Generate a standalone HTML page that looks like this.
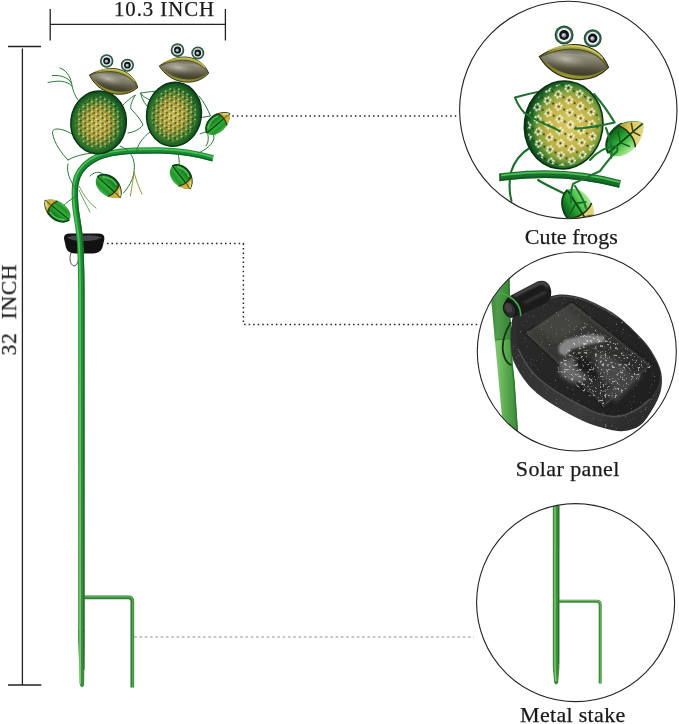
<!DOCTYPE html>
<html>
<head>
<meta charset="utf-8">
<title>Solar frog garden stake – dimensions</title>
<style>
  html,body{margin:0;padding:0;background:#fff;}
  body{width:679px;height:724px;overflow:hidden;position:relative;font-family:"Liberation Serif",serif;color:#1a1a1a;}
  svg{position:absolute;left:0;top:0;display:block;}
  .lbl{font-family:"Liberation Serif",serif;fill:#1a1a1a;stroke:#1a1a1a;stroke-width:0.25px;}
</style>
</head>
<body>
<svg width="679" height="724" viewBox="0 0 679 724">
<defs>
  <clipPath id="c1"><circle cx="568.3" cy="110" r="108.2"/></clipPath>
  <clipPath id="c2"><circle cx="576.8" cy="351.5" r="99"/></clipPath>
  <clipPath id="c3"><circle cx="575.6" cy="602.6" r="98.5"/></clipPath>

  <!-- gradients -->
  <radialGradient id="gBody" cx="0.48" cy="0.52" r="0.55">
    <stop offset="0" stop-color="#cfc058"/>
    <stop offset="0.4" stop-color="#ab9f38"/>
    <stop offset="0.62" stop-color="#5c8a2e"/>
    <stop offset="0.8" stop-color="#1f6b28"/>
    <stop offset="1" stop-color="#0c3a15"/>
  </radialGradient>
  <linearGradient id="gHead" x1="0.35" y1="0" x2="0.6" y2="1">
    <stop offset="0" stop-color="#5f5d44"/>
    <stop offset="0.25" stop-color="#939180"/>
    <stop offset="0.5" stop-color="#777561"/>
    <stop offset="0.8" stop-color="#4d4b37"/>
    <stop offset="1" stop-color="#3d3b28"/>
  </linearGradient>
  <linearGradient id="gLip" x1="0" y1="0" x2="0" y2="1">
    <stop offset="0" stop-color="#b4b248"/>
    <stop offset="0.2" stop-color="#a09e3a"/>
    <stop offset="0.8" stop-color="#84822c"/>
    <stop offset="1" stop-color="#9c9a38"/>
  </linearGradient>
  <radialGradient id="gHeadHi" cx="0.36" cy="0.42" r="0.42">
    <stop offset="0" stop-color="#cfcdc0" stop-opacity="0.75"/>
    <stop offset="0.55" stop-color="#a5a393" stop-opacity="0.35"/>
    <stop offset="1" stop-color="#77755f" stop-opacity="0"/>
  </radialGradient>
  <linearGradient id="gLeaf" x1="0" y1="0" x2="0" y2="1">
    <stop offset="0" stop-color="#0d5219"/>
    <stop offset="0.3" stop-color="#1c8a28"/>
    <stop offset="0.55" stop-color="#33b336"/>
    <stop offset="0.8" stop-color="#23922c"/>
    <stop offset="1" stop-color="#4cba4c"/>
  </linearGradient>
  <linearGradient id="gLeafBig" x1="0" y1="0" x2="0" y2="1">
    <stop offset="0" stop-color="#0e561b"/>
    <stop offset="0.3" stop-color="#1f902a"/>
    <stop offset="0.55" stop-color="#37b838"/>
    <stop offset="0.8" stop-color="#7ed66c"/>
    <stop offset="1" stop-color="#b4e8a0"/>
  </linearGradient>
  <linearGradient id="gTip" x1="0" y1="0" x2="0.4" y2="1">
    <stop offset="0" stop-color="#a8922c"/>
    <stop offset="0.45" stop-color="#dccb62"/>
    <stop offset="1" stop-color="#e6d98a"/>
  </linearGradient>
  <pattern id="pHoles" width="5" height="8.6" patternUnits="userSpaceOnUse" patternTransform="rotate(24)">
    <circle cx="1.2" cy="1.2" r="0.8" fill="#fbfbe6"/>
    <circle cx="3.7" cy="5.5" r="0.8" fill="#fbfbe6"/>
    <circle cx="3.7" cy="1.6" r="0.95" fill="#26300f"/>
    <circle cx="1.2" cy="5.8" r="0.95" fill="#26300f"/>
    <circle cx="2.4" cy="3.5" r="0.5" fill="#efe9a8"/>
    <circle cx="0.2" cy="7.6" r="0.6" fill="#3c4614"/>
    <circle cx="4.6" cy="3.6" r="0.5" fill="#3c4614"/>
  </pattern>
  <radialGradient id="gHoleMask" cx="0.5" cy="0.5" r="0.5">
    <stop offset="0" stop-color="#fff"/>
    <stop offset="0.8" stop-color="#fff"/>
    <stop offset="1" stop-color="#000"/>
  </radialGradient>

  <pattern id="pFlower" width="12.5" height="21" patternUnits="userSpaceOnUse" patternTransform="rotate(20)"><circle cx="6.00" cy="6.03" r="1.25" fill="#f8f8e2"/><circle cx="3.88" cy="8.15" r="1.25" fill="#f8f8e2"/><circle cx="0.98" cy="7.37" r="1.25" fill="#f8f8e2"/><circle cx="0.20" cy="4.47" r="1.25" fill="#f8f8e2"/><circle cx="2.32" cy="2.35" r="1.25" fill="#f8f8e2"/><circle cx="5.22" cy="3.13" r="1.25" fill="#f8f8e2"/><circle cx="3.1" cy="5.25" r="1" fill="#2b3510"/><circle cx="12.25" cy="16.53" r="1.25" fill="#f8f8e2"/><circle cx="10.13" cy="18.65" r="1.25" fill="#f8f8e2"/><circle cx="7.23" cy="17.87" r="1.25" fill="#f8f8e2"/><circle cx="6.45" cy="14.97" r="1.25" fill="#f8f8e2"/><circle cx="8.57" cy="12.85" r="1.25" fill="#f8f8e2"/><circle cx="11.47" cy="13.63" r="1.25" fill="#f8f8e2"/><circle cx="9.35" cy="15.75" r="1" fill="#2b3510"/><circle cx="9.35" cy="5.25" r="1.1" fill="#253010"/><circle cx="3.1" cy="15.75" r="1.1" fill="#253010"/></pattern>
  <radialGradient id="gBody2" cx="0.57" cy="0.5" r="0.58">
    <stop offset="0" stop-color="#d8cb66"/>
    <stop offset="0.5" stop-color="#c0b248"/>
    <stop offset="0.68" stop-color="#84a03c"/>
    <stop offset="0.84" stop-color="#1e6a28"/>
    <stop offset="1" stop-color="#082e10"/>
  </radialGradient>
  <g id="body2"><ellipse rx="1" ry="1.14" fill="url(#gBody2)" stroke="#0a3212" stroke-width="0.04"/></g>
  <!-- eye : unit radius -->
  <g id="eye">
    <circle r="1" fill="#214a36"/>
    <circle r="0.88" fill="#3a6e54"/>
    <circle r="0.73" fill="#f1f4ef"/>
    <circle r="0.52" fill="#10131c"/>
    <circle r="0.25" cx="-0.03" cy="0.03" fill="#9aa1af"/>
    <circle r="0.1" cx="-0.08" cy="-0.04" fill="#f4f6fa"/>
  </g>
  <!-- head : lemon shape, x -1..1 -->
  <g id="head">
    <path d="M-1 0C-0.62-0.36-0.2-0.5 0.08-0.5C0.5-0.5 0.82-0.3 1 0C0.78 0.32 0.42 0.48 0.02 0.48C-0.4 0.48-0.76 0.28-1 0Z" fill="url(#gLip)" stroke="#2e2c12" stroke-width="0.035"/>
    <path d="M-0.97 0.0C-0.6-0.25-0.2-0.37 0.08-0.37C0.46-0.37 0.78-0.22 0.97 0.0C0.74 0.25 0.42 0.37 0.03 0.37C-0.36 0.37-0.72 0.22-0.97 0.0Z" fill="url(#gHead)"/>
    <path d="M-0.97 0.0C-0.6-0.25-0.2-0.37 0.08-0.37C0.46-0.37 0.78-0.22 0.97 0.0" fill="none" stroke="#4a4820" stroke-width="0.03"/>
    <path d="M-0.9 0.0C-0.55-0.2-0.2-0.3 0.08-0.3C0.42-0.3 0.72-0.18 0.9 0.0C0.68 0.2 0.4 0.3 0.03 0.3C-0.33 0.3-0.66 0.18-0.9 0.0Z" fill="url(#gHeadHi)"/>
    <path d="M-0.8-0.2C-0.45-0.4-0.1-0.46 0.1-0.46C0.4-0.46 0.65-0.36 0.8-0.22" fill="none" stroke="#d6d672" stroke-width="0.04" opacity="0.8"/>
  </g>
  <!-- body : rx 1, ry 1.14 -->
  <g id="body">
    <ellipse rx="1" ry="1.14" fill="url(#gBody)" stroke="#0a3212" stroke-width="0.05"/>
  </g>
  <!-- leaf : stem at x=-1, tip at x=1 -->
  <g id="leafS">
    <path d="M-1 0.05C-0.9-0.5-0.3-0.8 0.3-0.62C0.68-0.47 0.9-0.2 1 0.06C0.8 0.38 0.42 0.66-0.05 0.7C-0.55 0.72-0.95 0.45-1 0.05Z"/>
    <path d="M-1 0.05C-0.9-0.5-0.3-0.8 0.3-0.62C0.68-0.47 0.9-0.2 1 0.06" fill="none" stroke="#0a3a14" stroke-width="0.1"/>
    <path d="M-0.75-0.2C-0.4-0.5 0-0.55 0.3-0.42" fill="none" stroke="#5fd35f" stroke-width="0.13" opacity="0.75"/>
    <path d="M0.42-0.56C0.7-0.42 0.9-0.2 1 0.06C0.85 0.3 0.62 0.5 0.36 0.6C0.5 0.3 0.52-0.2 0.42-0.56Z" fill="#c9b145"/>
    <path d="M0.42-0.56C0.52-0.2 0.5 0.3 0.36 0.6" fill="none" stroke="#3a320a" stroke-width="0.08"/>
    <path d="M0.55 0.02L1 0.06" stroke="#6a5a14" stroke-width="0.08" fill="none"/>
    <path d="M0.62-0.3C0.75-0.2 0.85-0.1 0.93 0" stroke="#eadf92" stroke-width="0.1" fill="none"/>
    <path d="M-0.95 0.04C-0.4 0.05 0.1 0.04 0.5 0.04" stroke="#0c3f18" stroke-width="0.09" fill="none"/>
  </g>
  <g id="leaf">
    <path d="M-1 0.05C-0.9-0.5-0.3-0.8 0.3-0.62C0.68-0.47 0.9-0.2 1 0.06C0.8 0.38 0.42 0.66-0.05 0.7C-0.55 0.72-0.95 0.45-1 0.05Z"/>
    <path d="M-1 0.05C-0.9-0.5-0.3-0.8 0.3-0.62" fill="none" stroke="#0c4216" stroke-width="0.09"/>
    <path d="M0.12-0.66C0.6-0.52 0.88-0.22 1 0.06C0.8 0.36 0.5 0.6 0.06 0.69C0.3 0.36 0.32-0.22 0.12-0.66Z" fill="url(#gTip)"/>
    <path d="M0.12-0.66C0.32-0.22 0.3 0.36 0.06 0.69" fill="none" stroke="#2e2a08" stroke-width="0.07"/>
    <path d="M-0.95 0.04C-0.3 0.05 0.4 0.04 0.97 0.06" stroke="#0c3f18" stroke-width="0.08" fill="none"/>
    <path d="M-0.3 0.05L-0.05-0.45M-0.3 0.05L-0.1 0.5" stroke="#0f5a1e" stroke-width="0.06" fill="none"/>
    <path d="M0.42 0.05L0.62-0.34M0.42 0.05L0.55 0.42" stroke="#4a3c0c" stroke-width="0.07" fill="none"/>
  </g>

  <linearGradient id="gPole" x1="0" y1="0" x2="1" y2="0">
    <stop offset="0" stop-color="#4c9c44"/>
    <stop offset="0.3" stop-color="#7cc46c"/>
    <stop offset="0.6" stop-color="#58a84c"/>
    <stop offset="1" stop-color="#38853a"/>
  </linearGradient>
  <linearGradient id="gPanelSide" x1="0" y1="0" x2="0.7" y2="1">
    <stop offset="0" stop-color="#2a2a2a"/>
    <stop offset="0.45" stop-color="#333333"/>
    <stop offset="0.8" stop-color="#3c3c3c"/>
    <stop offset="1" stop-color="#2c2c2c"/>
  </linearGradient>
  <linearGradient id="gPanelTop" x1="0" y1="0" x2="1" y2="1">
    <stop offset="0" stop-color="#2e2e2e"/>
    <stop offset="0.5" stop-color="#242424"/>
    <stop offset="1" stop-color="#1e1e1e"/>
  </linearGradient>
  <linearGradient id="gCell" x1="0.1" y1="0" x2="0.9" y2="1">
    <stop offset="0" stop-color="#41423d"/>
    <stop offset="0.4" stop-color="#343531"/>
    <stop offset="0.7" stop-color="#2c2c2c"/>
    <stop offset="1" stop-color="#272727"/>
  </linearGradient>
  <filter id="fWet" x="0" y="0" width="1" height="1">
    <feTurbulence type="fractalNoise" baseFrequency="0.55" numOctaves="2" seed="7" result="n"/>
    <feColorMatrix in="n" type="matrix" values="0 0 0 0 1  0 0 0 0 1  0 0 0 0 1  4 4 0 0 -5.1"/>
    <feComposite in2="SourceGraphic" operator="in"/>
  </filter>
  <filter id="fWet2" x="0" y="0" width="1" height="1">
    <feTurbulence type="fractalNoise" baseFrequency="0.42" numOctaves="2" seed="3" result="n"/>
    <feColorMatrix in="n" type="matrix" values="0 0 0 0 1  0 0 0 0 1  0 0 0 0 1  5 5 0 0 -5.6"/>
    <feComposite in2="SourceGraphic" operator="in"/>
  </filter>
  <filter id="fBlur2"><feGaussianBlur stdDeviation="2.2"/></filter>
  <filter id="fBlur1"><feGaussianBlur stdDeviation="0.9"/></filter>

  <linearGradient id="gStkA" gradientUnits="userSpaceOnUse" x1="0" y1="150" x2="0" y2="690">
    <stop offset="0" stop-color="#1c8a32"/><stop offset="0.35" stop-color="#239036"/><stop offset="0.7" stop-color="#35893a"/><stop offset="1" stop-color="#3d8c3e"/>
  </linearGradient>
  <linearGradient id="gStkB" gradientUnits="userSpaceOnUse" x1="0" y1="150" x2="0" y2="690">
    <stop offset="0" stop-color="#45c455"/><stop offset="0.4" stop-color="#55c85c"/><stop offset="1" stop-color="#86cc78"/>
  </linearGradient>
  <linearGradient id="gStkC" gradientUnits="userSpaceOnUse" x1="0" y1="150" x2="0" y2="690">
    <stop offset="0" stop-color="#12602a"/><stop offset="1" stop-color="#2a702e"/>
  </linearGradient>
</defs>
<rect width="679" height="724" fill="#fff"/>

<!-- ===== dimension lines ===== -->
<g stroke="#222" stroke-width="1.3" fill="none">
  <path d="M50.2 9V40.5M225.4 9V40.5M50.2 24.4H225.4"/>
  <path d="M8 46.5H41M8 685H41.3M22.4 48.5V685"/>
</g>

<!-- ===== dotted leader lines ===== -->
<g stroke="#222" stroke-width="1.5" fill="none" stroke-dasharray="1.5 3.04">
  <path d="M232.3 116H459"/>
  <path d="M107 243.6H243.4V324.4H479"/>
</g>
<path d="M134.2 637H474" stroke="#8c8c8c" stroke-width="1" stroke-dasharray="2.6 2.7" fill="none"/>

<!-- ===== main product (left) ===== -->
<g id="main">
  <!-- stand legs -->
  <path d="M82 597.4H128.5Q132.3 597.4 132.3 601.2V687.5" fill="none" stroke="#2f7f32" stroke-width="3.7" stroke-linejoin="round"/>
  <path d="M82 596.9H128.5Q132.8 596.9 132.8 601.2V687" fill="none" stroke="#63b65a" stroke-width="1.1"/>
  <!-- small solar lamp (behind stake) -->
  <path d="M64 238.5Q63.6 233.6 70 233.6H98Q104.8 233.6 104.4 239L102.6 247Q100.6 253.4 93 253.4H75Q67.4 253.4 65.8 247Z" fill="#121212"/>
  <path d="M66.5 237.5Q74 234.6 84 235.6Q94 234.6 102 237.5Q96 241 84 241Q72 241 66.5 237.5Z" fill="#44474a"/>
  <path d="M71 253C69 259 70 264.5 74 266C77 265.5 78.5 261 79 258" fill="none" stroke="#222" stroke-width="0.8"/>
  <!-- main stake : tapered bottom -->
  <path d="M78.1 630L78.1 640L80 685Q82 689.5 84.1 685L84.7 640L84.7 630Z" fill="url(#gStkA)"/>
  <!-- upper stake & branch -->
  <path id="stk" d="M81.4 632L81.4 290C81.3 272 80.9 256 80 241C79 227 76.4 217 75.4 206C74.6 197 74.6 190 75.4 183.5C77 173 82 166.5 91 160.5C105 151 130 150.3 160 150.4C182 150.9 200 154.6 213 158.3" fill="none" stroke="url(#gStkA)" stroke-width="6.4" stroke-linecap="butt"/>
  <path d="M80.1 684L80.1 290C80 272 79.6 256 78.7 241C77.7 227 75.1 217 74.1 206C73.3 197 73.3 190 74.1 183.3C75.8 172.3 81.2 165.4 90.3 159.4C105 149.8 130 149.1 160 149.2C182 149.7 200 153.4 213 157.1" fill="none" stroke="url(#gStkB)" stroke-width="1.7"/>
  <path d="M83.8 670L83.8 290C83.7 272 83.3 256 82.4 241C81.4 227 78.8 217 77.8 206C77 197 77 190.5 77.8 184.3C79.3 174.5 84 168.3 92.7 162.8C106 153.6 130 152.8 160 152.9C182 153.4 200 157 212.6 160.7" fill="none" stroke="url(#gStkC)" stroke-width="1.4"/>

  <!-- thin tendrils / wires behind -->
  <g fill="none" stroke="#2a7a3a" stroke-width="1" stroke-linecap="round">
    <!-- frog1 left arm + fingers -->
    <path d="M78 100C75 96 72.5 90 71.5 83C70 76 66 70 60 68"/>
    <path d="M71.5 83C68 77 60 75 52.5 75.5"/>
    <path d="M71.8 86C66 80 58 80.5 48 82.5"/>
    <!-- frog1 left leg -->
    <path d="M72 134C62 128 52 127 52.5 133C54 143 62 154 68 160"/>
    <path d="M68 160C74 156 84 154 92 153"/>
    <!-- frog1 right arm -->
    <path d="M123 105C128 100 133 96 135.5 95C132 100 130 106 131 109C136 114 141 120 143 125C139 130 134 132 128 133"/>
    <!-- frog1 right leg / toes hanging -->
    <path d="M120 146C130 150 136 158 134 172C133 180 128 188 123.5 193"/>
    <path d="M134 172C136 180 139 188 142 194" stroke="#8a9a3a"/>
    <path d="M134 172C133 182 131 190 130.5 196" stroke="#8a9a3a"/>
    <!-- frog2 left arm -->
    <path d="M150 100C146 98 142 96 140.5 93C148 92 155 91 160 91"/>
    <path d="M140.5 93C142 100 146 106 151 110C160 114 170 116 180 116"/>
    <!-- frog2 left leg -->
    <path d="M150 132C142 138 137 146 136.5 152"/>
    <!-- frog2 right arm / leg -->
    <path d="M199 96C204 102 208 110 210.5 116C200 118 190 118.5 182 118"/>
    <path d="M200 134C208 130 214 132 214 138C213 144 206 150 198 153"/>
    <path d="M206 128C208 134 210 140 206 146"/>
    <!-- tendrils near stake -->
    <path d="M76 190C70 180 66 172 68 164" />
    <path d="M79 186C84 196 90 204 96 208" stroke="#5a9a4a" stroke-width="0.9"/>
    <path d="M79 190C83 199 87 206 90 212" stroke="#5a9a4a" stroke-width="0.9"/>
    <path d="M76 196C70 200 66 203 63 206"/>
    <path d="M90 176C94 172 99 171 103 174"/>
    <path d="M178 153C179 158 179.5 161 179 165"/>
    <path d="M215 135C212 128 210 124 207 122"/>
  </g>

  <!-- leaves -->
  <use href="#leafS" fill="url(#gLeaf)" transform="translate(109.2 186.6) rotate(42) scale(15.5 14)"/>
  <use href="#leafS" fill="url(#gLeaf)" transform="translate(181.7 177) rotate(52) scale(14.5 13.5)"/>
  <use href="#leafS" fill="url(#gLeaf)" transform="translate(218 123) rotate(-40) scale(15 12.5)"/>
  <use href="#leafS" fill="url(#gLeaf)" transform="translate(57 210.5) rotate(-141) scale(15.5 13)"/>

  <!-- frog 1 -->
  <g>
    <use href="#body" transform="translate(98.6 122.4) rotate(6) scale(27.8 27.6)"/>
    <ellipse cx="98.6" cy="122.4" rx="23" ry="26" transform="rotate(6 98.6 122.4)" fill="url(#pHoles)" opacity="0.85"/>
    <use href="#head" transform="translate(113.6 81.2) rotate(14.5) scale(25 25.5)"/>
    <use href="#eye" transform="translate(106.7 61) scale(6.7)"/>
    <use href="#eye" transform="translate(127.4 65.2) scale(6.5)"/>
  </g>
  <!-- frog 2 -->
  <g>
    <use href="#body" transform="translate(174 114.3) rotate(8) scale(27.4 28.2)"/>
    <ellipse cx="174" cy="114.3" rx="22.5" ry="27" transform="rotate(8 174 114.3)" fill="url(#pHoles)" opacity="0.85"/>
    <use href="#head" transform="translate(184 69.6) rotate(8.3) scale(25 25.5)"/>
    <use href="#eye" transform="translate(177.5 50.1) scale(6.8)"/>
    <use href="#eye" transform="translate(197.8 53) scale(6.5)"/>
  </g>

  </g>

<!-- ===== detail circles ===== -->
<g id="d1" clip-path="url(#c1)">
  <!-- wires behind -->
  <g fill="none" stroke="#1c6e2c" stroke-width="2.1" stroke-linecap="round" stroke-linejoin="round">
    <path d="M548 90C536 92 524 95 515 97.5C517 103 520 108 524.5 113C532 118 540 122 548 125"/>
    <path d="M531 147C521 153 514 162 511 172C509 182 509 192 511.5 201"/>
    <path d="M538 180C546 185 555 189 563 193"/>
  </g>
  <!-- branch -->
  <path d="M500 177.3Q563 168.5 620 184" fill="none" stroke="#1a7029" stroke-width="7.6"/>
  <path d="M500.5 175.6Q563 166.8 619.6 182.2" fill="none" stroke="#49c158" stroke-width="1.8"/>
  <path d="M500 180.2Q563 171.6 619.4 187" fill="none" stroke="#0f5a22" stroke-width="1.6"/>
  <path d="M500 173.5V181.2" stroke="#0f4a1c" stroke-width="1.4"/>
  <!-- leaves -->
  <use href="#leaf" fill="url(#gLeafBig)" transform="translate(625 137.4) rotate(-41) scale(23 20.5)"/>
  <use href="#leaf" fill="url(#gLeafBig)" transform="translate(578.6 209.5) rotate(58) scale(22.5 -21)"/>
  <!-- body -->
  <use href="#body2" transform="translate(563.6 125) rotate(8) scale(39.2 38.6)"/>
  <ellipse cx="563.6" cy="125" rx="36" ry="41" transform="rotate(8 563.6 125)" fill="url(#pFlower)" opacity="0.9"/>
  <!-- head -->
  <use href="#head" transform="translate(574 62) rotate(8.9) scale(35 35.4)"/>
  <use href="#eye" transform="translate(564.1 35) scale(9.5)"/>
  <use href="#eye" transform="translate(592.7 38.3) scale(9)"/>
  <!-- wires in front -->
  <g fill="none" stroke="#1f7530" stroke-width="2.1" stroke-linecap="round" stroke-linejoin="round">
    <path d="M594 94C602 103 609 113 614.7 122.6C600 126 588 128 575 128.8"/>
    <path d="M524.5 113C532 118 540 122 548 125.5C552 127 556 128.5 559 131"/>
    <path d="M590 160C597 152 606 147 615 146C619 148 618 152 614 154C608 160 604 166 600 171C590 176 580 180 573 184C571 190 570 196 571 202"/>
    <path d="M606 128C610 138 613 148 611 158"/>
    <path d="M575 186C580 194 584 200 586 208"/>
  </g>
</g>
<g id="d2" clip-path="url(#c2)">
  <!-- pole -->
  <path d="M488.5 270L509.2 270L510.2 317L512.6 364L514.5 381.4L517.3 422.9L518.8 445L504.6 445L494.9 340Z" fill="url(#gPole)"/>
  <path d="M488.5 270L509.2 270L510.2 317L511.4 338.5L494.9 340Z" fill="#1d6a26" opacity="0.45"/>
  <path d="M495 340L511.4 338.5" stroke="#2f7a2e" stroke-width="0.9" fill="none"/>
  <path d="M508.6 270L509.6 317L512 364L513.9 381.4L516.7 422.9L518.2 445" stroke="#2f7a30" stroke-width="1.6" fill="none"/>
  <!-- black wire loop -->
  <path d="M511 322C505 332 501 344 503.5 354C505 360 508 364 511.5 365" fill="none" stroke="#15301a" stroke-width="1.8"/>
  <!-- panel body (side) -->
  <path d="M511.6 323.9C512.5 318.8 512.1 315.4 516.2 311.6C520.3 307.8 528.8 303.8 536.0 301.0C543.2 298.2 552.5 295.4 559.3 294.6C566.1 293.9 571.4 295.2 577.0 296.5C582.6 297.8 586.3 299.0 593.1 302.3C599.9 305.6 609.5 310.0 617.7 316.2C625.9 322.4 636.2 332.5 642.4 339.3C648.6 346.1 651.8 351.2 655.0 357.0C658.2 362.8 660.6 368.2 661.5 374.0C662.4 379.8 662.1 386.0 660.5 392.0C658.9 398.0 655.4 404.4 652.0 410.0C648.6 415.6 644.7 422.0 640.0 425.5C635.3 429.0 629.2 430.4 623.7 431.0C618.2 431.6 614.1 430.7 607.2 429.0C600.3 427.3 591.1 424.5 582.5 420.7C573.9 416.9 564.3 411.8 555.7 406.3C547.1 400.8 537.9 394.9 531.0 387.7C524.1 380.5 517.8 370.6 514.4 363.0C511.0 355.4 511.3 348.5 510.8 342.0C510.3 335.5 510.7 329.0 511.6 323.9Z" fill="url(#gPanelSide)"/>
  <!-- top face -->
  <path d="M516.5 330.0C517.0 324.3 517.4 319.4 521.0 315.0C524.6 310.6 531.6 306.6 538.0 303.5C544.4 300.4 552.8 297.3 559.3 296.4C565.8 295.5 571.4 296.8 577.0 298.0C582.6 299.2 586.2 300.5 593.0 303.8C599.8 307.1 609.6 311.7 617.7 317.8C625.8 323.9 635.8 334.0 641.8 340.6C647.8 347.2 651.0 352.3 654.0 357.5C657.0 362.7 659.3 367.2 660.0 372.0C660.7 376.8 659.7 381.5 658.0 386.0C656.3 390.5 653.0 395.4 650.0 399.0C647.0 402.6 644.0 404.9 640.0 407.5C636.0 410.1 630.4 413.0 626.0 414.5C621.6 416.0 618.1 416.8 613.4 416.6C608.7 416.4 603.1 415.2 598.0 413.5C592.9 411.8 588.0 409.1 582.5 406.3C577.0 403.6 570.9 400.4 565.0 397.0C559.1 393.6 552.2 389.2 547.4 385.7C542.6 382.2 539.4 379.4 536.0 376.0C532.6 372.6 529.8 369.5 526.8 365.0C523.8 360.5 519.7 354.8 518.0 349.0C516.3 343.2 516.0 335.7 516.5 330.0Z" fill="url(#gPanelTop)"/>
  <!-- rim highlight -->
  <path d="M524 311.8C536 304 548 297.8 559.3 296.2C571 295.8 583 299 593 303.6C602 307.6 610.5 312.6 617.7 317.7" fill="none" stroke="#4a4a4a" stroke-width="1.2"/>
  <path d="M518.0 349.0C519.5 351.7 523.8 360.5 526.8 365.0C529.8 369.5 532.6 372.6 536.0 376.0C539.4 379.4 542.6 382.2 547.4 385.7C552.2 389.2 559.1 393.6 565.0 397.0C570.9 400.4 577.0 403.6 582.5 406.3C588.0 409.1 592.9 411.8 598.0 413.5C603.1 415.2 608.7 416.4 613.4 416.6C618.1 416.8 621.6 416.0 626.0 414.5C630.4 413.0 636.0 410.1 640.0 407.5C644.0 404.9 648.3 400.4 650.0 399.0" fill="none" stroke="#4e4e4e" stroke-width="1.6"/>
  <!-- PV cell -->
  <path d="M524.2 333.1L571.8 301.6L653.2 365.2L604.6 408.2Z" fill="url(#gCell)" stroke="#1c1c1c" stroke-width="1.2"/>
  <path d="M527.8 333.4L571.7 304.6L649.4 365.3L604.8 404.6Z" fill="none" stroke="#555" stroke-width="0.6"/>
  <!-- reflections -->
  <g filter="url(#fBlur1)">
    <path d="M558.6 346L566 339.2L588.6 334.6L603.6 336L605.2 341.2L589 344.4L571.4 348.8L565.4 356.4L558.8 353Z" fill="#858585"/>
  </g>
  <g filter="url(#fBlur2)">
    <path d="M560 362L575 357L588 367L586 380L572 383L560 375Z" fill="#666"/>
    <path d="M598 352C612 356 624 364 632 376C626 386 612 388 602 378C596 368 594 358 598 352Z" fill="#4a4a4a"/>
    <path d="M536 326L564 308L586 324L556 342Z" fill="#4a4a44" opacity="0.7"/>
    <path d="M574 352C586 356 596 366 600 378C590 380 580 374 574 366Z" fill="#1a1a1a"/>
    <path d="M604 394L626 374L644 374L616 402Z" fill="#444"/>
  </g>
  
  <!-- wet speckle -->
  <path d="M511.6 323.9C512.5 318.8 512.1 315.4 516.2 311.6C520.3 307.8 528.8 303.8 536.0 301.0C543.2 298.2 552.5 295.4 559.3 294.6C566.1 293.9 571.4 295.2 577.0 296.5C582.6 297.8 586.3 299.0 593.1 302.3C599.9 305.6 609.5 310.0 617.7 316.2C625.9 322.4 636.2 332.5 642.4 339.3C648.6 346.1 651.8 351.2 655.0 357.0C658.2 362.8 660.6 368.2 661.5 374.0C662.4 379.8 662.1 386.0 660.5 392.0C658.9 398.0 655.4 404.4 652.0 410.0C648.6 415.6 644.7 422.0 640.0 425.5C635.3 429.0 629.2 430.4 623.7 431.0C618.2 431.6 614.1 430.7 607.2 429.0C600.3 427.3 591.1 424.5 582.5 420.7C573.9 416.9 564.3 411.8 555.7 406.3C547.1 400.8 537.9 394.9 531.0 387.7C524.1 380.5 517.8 370.6 514.4 363.0C511.0 355.4 511.3 348.5 510.8 342.0C510.3 335.5 510.7 329.0 511.6 323.9Z" fill="#bdbdbd" filter="url(#fWet)" opacity="0.4"/>
  <path d="M584 322L653 365.4L604.6 408L556 370Z" fill="#a5a5a5" filter="url(#fWet2)" opacity="0.55"/>
  <!-- hinge cylinder -->
  <path d="M509 296.5L538 281.3C543 279.6 547.5 281.5 549.6 285.8C551.6 290 551.6 294 550.4 298.5L547 302.5L522 314.5C516 317 509 316 505.5 311C503 306 504.5 299.5 509 296.5Z" fill="#1b1b1b"/>
  <path d="M514 296L539 283.4C543 282.2 546.4 284 548 287.6" fill="none" stroke="#585858" stroke-width="2.2" filter="url(#fBlur1)"/>
  <path d="M524 303L546 292" fill="none" stroke="#3c3c3c" stroke-width="2" filter="url(#fBlur1)"/>
  <ellipse cx="509.6" cy="309.4" rx="5.8" ry="8.2" transform="rotate(-24 509.6 309.4)" fill="#2b2b2b" stroke="#101010" stroke-width="0.9"/>
  <ellipse cx="508.6" cy="308" rx="3.4" ry="5" transform="rotate(-24 508.6 308)" fill="#414141"/>
  <!-- green wire around hinge -->
  <path d="M497 292C505 293.5 513.5 298 518 305C520.5 309.5 521 313 520.5 316" fill="none" stroke="#3fae42" stroke-width="1.6"/>
</g>
<g id="d3" clip-path="url(#c3)">
  <path d="M558 601.2H597Q600.2 601.2 600.2 604.4V683.6" fill="none" stroke="#3a8c3a" stroke-width="3"/>
  <path d="M558 600.6H597Q600.8 600.6 600.8 604.4V683" fill="none" stroke="#7cc66e" stroke-width="0.9"/>
  <path d="M552.8 500L552.8 667L554.2 682.5Q556.2 686.5 558.2 682.5L559.4 667L559.5 500Z" fill="#3a8c3a"/>
  <path d="M555 500V668L555.8 681" stroke="#84cc74" stroke-width="1.4" fill="none"/>
  <path d="M558.6 500V664" stroke="#27702c" stroke-width="1.1" fill="none"/>
</g>
<g stroke="#222" stroke-width="1.1" fill="none">
  <circle cx="568.3" cy="110" r="108.7"/>
  <circle cx="576.8" cy="351.5" r="99.5"/>
  <circle cx="575.6" cy="602.6" r="99"/>
</g>

<!-- ===== labels ===== -->
<g opacity="0.999">
<text class="lbl" x="114" y="15.6" font-size="20.8" letter-spacing="0.95">10.3 INCH</text>
<text class="lbl" transform="translate(15.9 355.4) rotate(-90)" font-size="21.4" letter-spacing="0.7" word-spacing="7.4">32 INCH</text>
<text class="lbl" x="524.8" y="244.4" font-size="22" letter-spacing="0.08">Cute frogs</text>
<text class="lbl" x="515.8" y="476.1" font-size="22" letter-spacing="0.4">Solar panel</text>
<text class="lbl" x="520" y="721.6" font-size="22" letter-spacing="0.32">Metal stake</text>
</g>
</svg>
</body>
</html>
